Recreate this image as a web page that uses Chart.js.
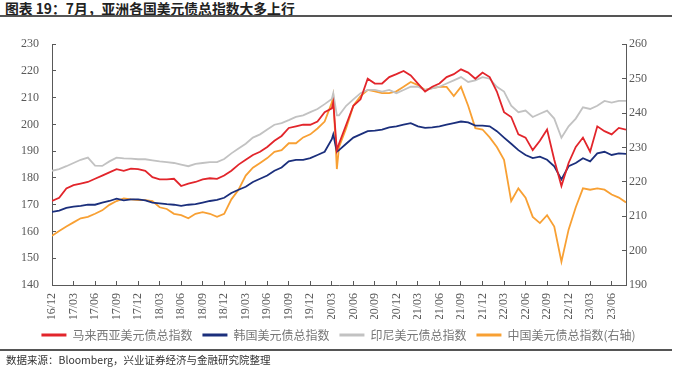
<!DOCTYPE html>
<html>
<head>
<meta charset="utf-8">
<script src="https://cdn.jsdelivr.net/npm/chart.js@4.4.0/dist/chart.umd.min.js"></script>
<style>
  body { margin: 0; width: 677px; height: 369px; background: #fff; position: relative; overflow: hidden;
         font-family: "Noto Sans CJK SC", sans-serif; }
  #title { position: absolute; left: 5px; top: 0; font-size: 13.8px; font-weight: bold; line-height: 16px; color: #222; }
  .rule { position: absolute; left: 0; width: 672px; height: 2px; background: #555; }
  #wrap { position: absolute; left: 0; top: 20px; width: 677px; height: 331px; }
  #source { position: absolute; left: 6px; top: 353px; font-size: 10.5px; line-height: 13px; color: #333; }
</style>
</head>
<body>
<div id="title">图表 19：7月，亚洲各国美元债总指数大多上行</div>
<div class="rule" style="top:15px"></div>
<div id="wrap"><canvas id="c"></canvas></div>
<div class="rule" style="top:349px;height:1.5px"></div>
<div id="source">数据来源：Bloomberg，兴业证券经济与金融研究院整理</div>
<script>
// months since 2016-12 (a few extra points around the 2020/03 spike)
var months = [0,1,2,3,4,5,6,7,8,9,10,11,12,13,14,15,16,17,18,19,20,21,22,23,24,25,26,27,28,29,
  30,31,32,33,34,35,36,37,38,39,39.2,39.7,40,41,42,43,44,45,46,47,48,49,50,51,52,53,54,55,56,57,58,59,
  60,61,62,63,64,65,66,67,68,69,70,71,72,73,74,75,76,77,78,79,80];

var tickLabels = ['16/12','17/03','17/06','17/09','17/12','18/03','18/06','18/09','18/12','19/03','19/06',
  '19/09','19/12','20/03','20/06','20/09','20/12','21/03','21/06','21/09','21/12','22/03','22/06','22/09',
  '22/12','23/03','23/06'];

var malaysia = [171.4,172.6,176.1,177.3,177.9,178.5,179.7,180.9,182.1,183.3,
  182.7,183.5,183.3,182.7,180.3,179.5,179.5,179.7,177.0,177.9,
  178.5,179.5,179.9,179.7,180.9,182.7,185.0,186.8,188.6,189.8,
  191.6,193.9,195.7,198.7,199.3,199.9,199.9,201.1,204.6,
  206.0,208.2,190.4,
  192.8,199.9,207.0,209.4,217.1,215.3,215.3,217.7,218.8,220.0,
  218.3,215.3,212.3,214.1,215.3,217.7,218.8,220.6,219.4,217.1,
  219.4,217.7,212.3,204.6,202.8,196.3,195.1,190.4,193.9,198.1,
  186.8,177.0,185.6,191.6,195.1,189.8,199.3,197.5,196.3,198.7,198.1];

var korea = [167.3,167.8,168.8,169.3,169.6,170.0,170.0,170.8,171.4,172.3,
  171.6,172.0,172.0,171.6,170.8,170.5,170.2,170.0,169.6,170.0,
  170.2,170.8,171.4,171.8,172.6,174.4,175.6,176.7,178.5,179.7,
  180.9,182.7,183.9,186.2,186.8,186.8,187.4,188.6,189.8,
  194.5,196.3,189.8,
  190.4,192.8,195.1,196.3,197.5,197.7,198.1,198.9,199.3,199.9,
  200.5,199.3,198.7,198.9,199.3,199.9,200.5,201.1,200.8,199.6,
  199.6,199.3,197.5,195.1,192.8,190.4,188.6,187.4,188.0,186.8,
  184.4,179.5,184.4,185.6,187.4,186.2,189.2,189.8,188.6,189.2,189.0];

var indonesia = [182.7,183.3,184.4,185.6,186.8,187.6,184.6,184.5,186.2,187.6,
  187.3,187.2,187.0,187.0,186.6,186.2,185.9,185.6,185.0,184.4,
  185.3,185.6,185.9,185.9,187.1,189.2,191.0,192.8,195.1,196.3,
  198.1,199.9,200.5,201.6,202.8,203.4,204.6,205.8,207.6,
  209.5,211.7,203.4,
  203.4,207.0,209.4,211.7,212.9,212.9,212.3,212.9,211.7,212.9,
  214.1,214.1,212.9,213.5,214.1,215.3,216.5,217.7,215.9,216.5,
  217.7,217.1,214.1,212.3,207.0,204.6,205.2,202.8,204.0,205.2,
  202.2,195.0,199.3,202.2,206.4,205.8,207.0,208.8,208.2,208.8,208.8];

var china = [204.3,205.7,207.0,208.2,209.4,209.8,210.7,211.7,213.3,214.4,
  215.2,214.9,214.7,214.7,214.4,212.6,212.1,210.7,210.3,209.4,
  210.7,211.2,210.7,209.8,210.7,214.9,217.7,221.8,224.1,225.5,
  226.9,228.7,229.2,231.2,231.2,232.9,233.8,235.5,237.5,
  243.0,245.0,223.7,
  230.1,235.6,242.1,244.9,246.7,246.3,245.8,245.8,246.3,247.6,
  249.0,248.1,246.7,247.2,247.6,247.6,244.9,247.6,242.1,235.6,
  235.2,232.9,230.1,226.4,214.4,218.1,215.4,209.8,208.0,210.3,
  207.0,196.8,206.1,212.6,218.1,217.7,218.1,217.7,216.3,215.4,214.0];

var seriesNames = ['马来西亚美元债总指数', '韩国美元债总指数', '印尼美元债总指数', '中国美元债总指数(右轴)'];
var seriesColors = ['#e2252b', '#1b2f7c', '#c2c2c2', '#f8a033'];

function pts(values) {
  return values.map(function(v, i) { return { x: months[i], y: v }; });
}

var axisColor = '#595959';
var tickFont = { family: "'Liberation Serif', 'Times New Roman', serif", size: 12 };

var datasets = [malaysia, korea, indonesia, china].map(function(vals, i) {
  return {
    label: seriesNames[i],
    data: pts(vals),
    borderColor: seriesColors[i],
    backgroundColor: seriesColors[i],
    borderWidth: 1.8,
    pointRadius: 0,
    tension: 0,
    yAxisID: i === 3 ? 'y1' : 'y'
  };
});

new Chart(document.getElementById('c'), {
  type: 'line',
  data: { datasets: datasets },
  options: {
    responsive: true,
    maintainAspectRatio: false,
    animation: false,
    layout: { padding: { top: 13, left: 0, right: 0, bottom: 0 } },
    plugins: {
      tooltip: { enabled: false },
      legend: {
        position: 'bottom',
        labels: {
          boxWidth: 25,
          boxHeight: 3,
          padding: 10,
          color: '#777',
          font: { family: "'Noto Sans CJK SC', sans-serif", size: 12 },
          generateLabels: function(chart) {
            var items = Chart.defaults.plugins.legend.labels.generateLabels(chart);
            items.forEach(function(it) { it.lineWidth = 0; });
            return items;
          }
        }
      }
    },
    scales: {
      x: {
        type: 'linear',
        min: 0,
        max: 80,
        border: { color: axisColor, width: 1 },
        grid: { drawOnChartArea: false, tickLength: -4, color: axisColor },
        ticks: {
          stepSize: 3,
          includeBounds: false,
          autoSkip: false,
          maxRotation: 90,
          minRotation: 90,
          padding: 12,
          color: axisColor,
          font: tickFont,
          callback: function(v) { var l = tickLabels[Math.round(v / 3)]; return l === undefined ? '' : l; }
        },
        afterFit: function(s) { s.height = 34; }
      },
      y: {
        position: 'left',
        min: 140,
        max: 230,
        border: { color: axisColor, width: 1 },
        grid: { drawOnChartArea: false, tickLength: -4, color: axisColor },
        ticks: { stepSize: 10, padding: 17, color: axisColor, font: tickFont },
        afterFit: function(s) { s.width = 52; }
      },
      y1: {
        position: 'right',
        min: 190,
        max: 260,
        border: { color: axisColor, width: 1 },
        grid: { drawOnChartArea: false, tickLength: -4, color: axisColor },
        ticks: { stepSize: 10, padding: 7, color: axisColor, font: tickFont },
        afterFit: function(s) { s.width = 51; }
      }
    }
  }
});
</script>
</body>
</html>
